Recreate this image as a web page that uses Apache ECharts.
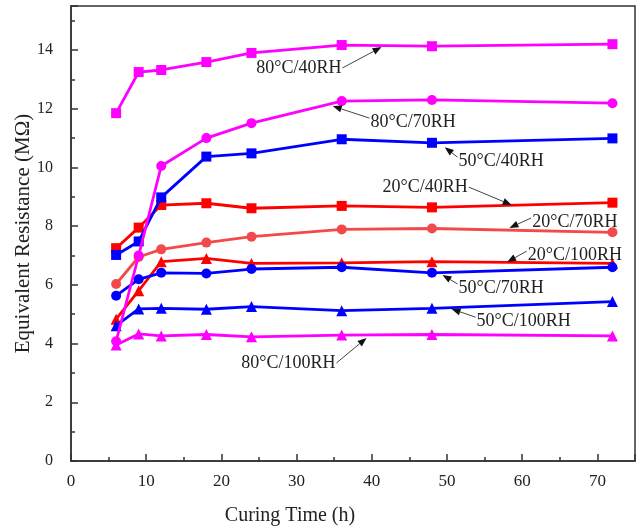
<!DOCTYPE html>
<html>
<head>
<meta charset="utf-8">
<script src="https://cdn.jsdelivr.net/npm/echarts@6/dist/echarts.min.js"></script>
<style>html,body{margin:0;padding:0;background:#fff;}#c{width:636px;height:527px;}</style>
</head>
<body>
<div id="c"></div>
<script>
// ---- data ----
var hours = [6, 9, 12, 18, 24, 36, 48, 72];
var s20_40  = [7.25, 7.95, 8.72, 8.78, 8.61, 8.69, 8.64, 8.80];
var s20_70  = [6.03, 6.95, 7.21, 7.44, 7.64, 7.89, 7.92, 7.79];
var s20_100 = [4.83, 5.80, 6.79, 6.90, 6.73, 6.75, 6.79, 6.73];
var s50_40  = [7.02, 7.48, 8.98, 10.37, 10.48, 10.96, 10.84, 10.99];
var s50_70  = [5.63, 6.19, 6.41, 6.39, 6.54, 6.60, 6.41, 6.60];
var s50_100 = [4.61, 5.18, 5.20, 5.17, 5.26, 5.12, 5.20, 5.43];
var s80_40  = [11.85, 13.25, 13.32, 13.59, 13.90, 14.17, 14.13, 14.20];
var s80_70  = [4.08, 7.00, 10.05, 11.00, 11.51, 12.26, 12.30, 12.19];
var s80_100 = [3.95, 4.33, 4.26, 4.31, 4.23, 4.29, 4.31, 4.26];
var yTicks = [0, 2, 4, 6, 8, 10, 12, 14];
var xTicks = [0, 10, 20, 30, 40, 50, 60, 70];
var seriesNames = ['20°C/40RH','20°C/70RH','20°C/100RH','50°C/40RH','50°C/70RH','50°C/100RH','80°C/40RH','80°C/70RH','80°C/100RH'];
// annotation: label, start point [x,y], arrow tip [x,y], text side
var annotations = [
  ['80°C/40RH',  [36.1, 13.39], [41.3, 14.10], 'right'],
  ['80°C/70RH',  [39.7, 11.68], [34.8, 12.09], 'left'],
  ['50°C/40RH',  [51.4, 10.35], [49.7, 10.69], 'left'],
  ['20°C/40RH',  [52.9, 9.33],  [58.6, 8.72],  'right'],
  ['20°C/70RH',  [61.2, 8.28],  [58.3, 7.94],  'left'],
  ['20°C/100RH', [60.6, 7.15],  [58.0, 6.78],  'left'],
  ['50°C/70RH',  [51.4, 6.03],  [49.4, 6.34],  'left'],
  ['50°C/100RH', [53.8, 4.90],  [50.6, 5.18],  'left'],
  ['80°C/100RH', [35.3, 3.34],  [39.3, 4.19],  'right']
];

var allValues = [s20_40, s20_70, s20_100, s50_40, s50_70, s50_100, s80_40, s80_70, s80_100];
var colors = ['#ff0000','#f24a4a','#ff0000','#0000ff','#0000ff','#0000ff','#ff00ff','#ff00ff','#ff00ff'];
var symbols = ['rect','circle','triangle','rect','circle','triangle','rect','circle','triangle'];

var chart = echarts.init(document.getElementById('c'), null, {renderer: 'canvas'});
var FONT = '"Liberation Serif", "Times New Roman", serif';

var series = allValues.map(function (vals, i) {
  return {
    name: seriesNames[i],
    type: 'line',
    data: hours.map(function (h, k) { return [h, vals[k]]; }),
    symbol: symbols[i],
    symbolSize: symbols[i] === 'triangle' ? 11 : 10,
    itemStyle: {color: colors[i]},
    lineStyle: {color: colors[i], width: 2.8},
    z: 2 + i,
    animation: false
  };
});

chart.setOption({
  animation: false,
  grid: {left: 71, right: 1, top: 6, bottom: 66, show: true, borderColor: '#333', borderWidth: 1.5,
    containLabel: false, outerBoundsMode: 'none'},
  xAxis: {
    type: 'value', min: 0, max: 75, interval: 10,
    axisLine: {lineStyle: {color: '#333', width: 1.5}},
    axisTick: {inside: true, length: 7, lineStyle: {color: '#333', width: 1.5}},
    minorTick: {show: true, splitNumber: 2, length: 4, lineStyle: {color: '#333', width: 1.5}},
    splitLine: {show: false},
    axisLabel: {showMaxLabel: false, fontFamily: FONT, fontSize: 17, color: '#222', margin: 12,
      formatter: function (v) { return xTicks.indexOf(v) >= 0 ? String(v) : ''; }}
  },
  yAxis: {
    type: 'value', min: 0, max: 15.5, interval: 2,
    name: 'Equivalent Resistance (MΩ)', nameLocation: 'middle', nameGap: 37, nameMoveOverlap: false,
    nameTextStyle: {fontFamily: FONT, fontSize: 21, color: '#222'},
    axisLine: {lineStyle: {color: '#333', width: 1.5}},
    axisTick: {inside: true, length: 7, lineStyle: {color: '#333', width: 1.5}},
    minorTick: {show: true, splitNumber: 2, length: 4, lineStyle: {color: '#333', width: 1.5}},
    splitLine: {show: false},
    axisLabel: {showMaxLabel: false, fontFamily: FONT, fontSize: 16, color: '#222', margin: 18,
      formatter: function (v) { return yTicks.indexOf(v) >= 0 ? String(v) : ''; }}
  },
  series: series
});

function drawAnnotations() {
  var els = [];
  annotations.forEach(function (a) {
    var s = chart.convertToPixel({gridIndex: 0}, a[1]);
    var e = chart.convertToPixel({gridIndex: 0}, a[2]);
    var dx = e[0] - s[0], dy = e[1] - s[1];
    var len = Math.sqrt(dx * dx + dy * dy);
    var ux = dx / len, uy = dy / len;
    var hl = 9, hw = 3.5;
    var bx = e[0] - ux * hl, by = e[1] - uy * hl;
    els.push({type: 'line', shape: {x1: s[0], y1: s[1], x2: bx, y2: by},
      style: {stroke: '#444', lineWidth: 1}, z: 50});
    els.push({type: 'polygon', shape: {points: [[e[0], e[1]], [bx - uy * hw, by + ux * hw], [bx + uy * hw, by - ux * hw]]},
      style: {fill: '#111'}, z: 50});
    var tx = a[3] === 'right' ? s[0] - 1 : s[0] + 1;
    els.push({type: 'text', x: tx, y: s[1] + (a[3] === 'right' ? 0 : 4),
      style: {text: a[0], font: '18px ' + FONT, fill: '#222',
        textAlign: a[3] === 'right' ? 'right' : 'left', textVerticalAlign: 'middle'}, z: 50});
  });
  els.push({type: 'text', x: 290, y: 516,
    style: {text: 'Curing Time (h)', font: '20px ' + FONT, fill: '#222', textAlign: 'center', textVerticalAlign: 'middle'}});
  chart.setOption({graphic: els});
}
drawAnnotations();
</script>
</body>
</html>
